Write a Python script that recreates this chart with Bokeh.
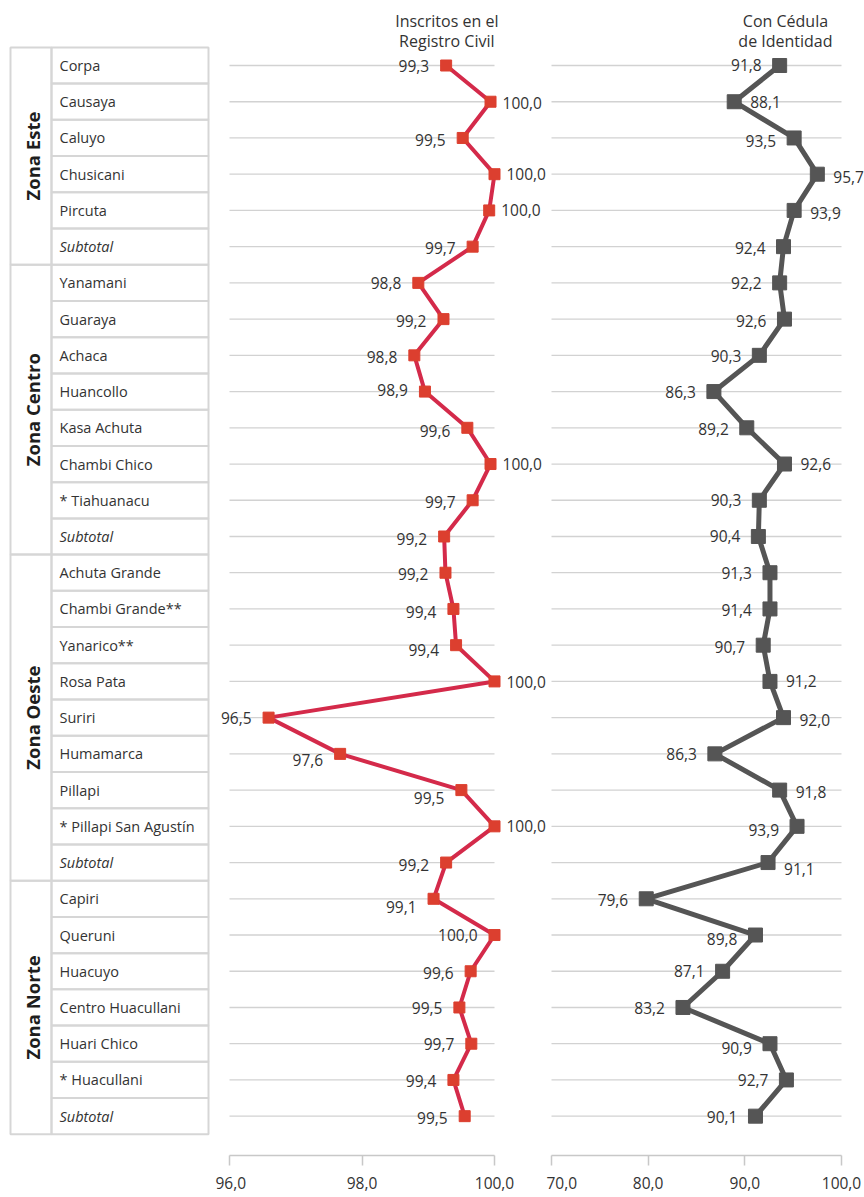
import numpy as np
from bokeh.plotting import figure
from bokeh.models import Range1d, ColumnDataSource, FixedTicker, CustomJSTickFormatter
from bokeh.layouts import row
from bokeh.embed import file_html
from bokeh.resources import INLINE
from bokeh.core.properties import value

# ---------------- data ----------------
zones = ["Zona Este", "Zona Centro", "Zona Oeste", "Zona Norte"]
zona_este = ["Corpa", "Causaya", "Caluyo", "Chusicani", "Pircuta", "Subtotal"]
zona_centro = ["Yanamani", "Guaraya", "Achaca", "Huancollo", "Kasa Achuta",
               "Chambi Chico", "* Tiahuanacu", "Subtotal"]
zona_oeste = ["Achuta Grande", "Chambi Grande**", "Yanarico**", "Rosa Pata", "Suriri",
              "Humamarca", "Pillapi", "* Pillapi San Agustín", "Subtotal"]
zona_norte = ["Capiri", "Queruni", "Huacuyo", "Centro Huacullani", "Huari Chico",
              "* Huacullani", "Subtotal"]
zone_rows = [zona_este, zona_centro, zona_oeste, zona_norte]

# Inscritos en el Registro Civil (%): plotted positions and printed labels
registro = [99.27, 99.94, 99.52, 100.0, 99.92, 99.67,
            98.85, 99.23, 98.79, 98.95, 99.59, 99.94, 99.67, 99.24,
            99.26, 99.38, 99.42, 100.0, 96.59, 97.67, 99.50, 100.0, 99.27,
            99.08, 100.0, 99.64, 99.47, 99.65, 99.38, 99.55]
registro_lbl = ["99,3", "100,0", "99,5", "100,0", "100,0", "99,7",
                "98,8", "99,2", "98,8", "98,9", "99,6", "100,0", "99,7", "99,2",
                "99,2", "99,4", "99,4", "100,0", "96,5", "97,6", "99,5", "100,0", "99,2",
                "99,1", "100,0", "99,6", "99,5", "99,7", "99,4", "99,5"]

# Con Cédula de Identidad (%): plotted positions and printed labels
cedula = [93.6, 88.9, 95.1, 97.5, 95.1, 94.0,
          93.6, 94.1, 91.5, 86.8, 90.2, 94.1, 91.5, 91.4,
          92.6, 92.6, 91.9, 92.6, 94.0, 86.9, 93.6, 95.4, 92.4,
          79.8, 91.1, 87.7, 83.6, 92.6, 94.3, 91.1]
cedula_lbl = ["91,8", "88,1", "93,5", "95,7", "93,9", "92,4",
              "92,2", "92,6", "90,3", "86,3", "89,2", "92,6", "90,3", "90,4",
              "91,3", "91,4", "90,7", "91,2", "92,0", "86,3", "91,8", "93,9", "91,1",
              "79,6", "89,8", "87,1", "83,2", "90,9", "92,7", "90,1"]

reg_ticks = [96, 98, 100]
ced_ticks = [70, 80, 90, 100]

# ---------------- layout / style ----------------
reg_side = list("LRLRRL" "LLLLLRLL" "LLLRLLLRL" "LLLLLLL")
reg_dy = [0, 1, 2, 0, 0, 1, 0, 2, 2, -2, 3, 0, 2, 3, 1, 3, 5, 1, 0, 6, 8, 0, 2, 8, 0, 2, 1, 0, 1, 2]
ced_side = list("LRLRRL" "LLLLLRLL" "LLLRRLRLR" "LLLLLLL")
ced_dy = [-1, 0, 3, 3, 3, 1, 0, 2, 1, 0, 1, 0, 0, 0, 0, 1, 2, 0, 2, 0, 2, 4, 6, 1, 4, 0, 1, 4, 0, 1]

FONT = "Open Sans"
TXT = "#333333"
GRID = "#d2d2d2"
H = 1197
BB = 42
PITCH = 36.23
ROW0 = 65.0
FRAME_H = H - BB
Y_TOP = -ROW0 / PITCH
Y_BOT = (FRAME_H - ROW0) / PITCH

names = [n for z in zone_rows for n in z]
rows = np.arange(len(names))


def base_fig(width, xr):
    p = figure(width=width, height=H, x_range=Range1d(*xr), y_range=Range1d(Y_BOT, Y_TOP),
               output_backend="svg", toolbar_location=None, y_axis_location=None,
               min_border_left=0, min_border_right=0, min_border_top=0, min_border_bottom=BB)
    p.outline_line_color = None
    p.xgrid.visible = False
    p.ygrid.visible = False
    p.background_fill_color = "white"
    p.border_fill_color = "white"
    return p


# ---------------- table ----------------
tw = 215
tab = base_fig(tw, (0, tw))
tab.xaxis.visible = False
zl, zr, nr = 10, 51, 208
tab.quad(left=zr, right=nr, top=rows - 0.5, bottom=rows + 0.5,
         fill_color=None, line_color="#d6d6d6", line_width=2)
start = 0
zmid = []
ztop = []
zbot = []
for z in zone_rows:
    ztop.append(start - 0.5)
    zbot.append(start + len(z) - 0.5)
    zmid.append(start + (len(z) - 1) / 2)
    start += len(z)
tab.quad(left=zl, right=zr, top=ztop, bottom=zbot, fill_color=None,
         line_color="#d6d6d6", line_width=2)
styles = ["italic" if n == "Subtotal" else "normal" for n in names]
tsrc = ColumnDataSource(dict(x=[59] * len(names), y=rows, t=names, s=styles))
tab.text(x="x", y="y", text="t", source=tsrc, text_font=value(FONT), text_font_size="14.5px",
         text_font_style="s", text_color=TXT, text_baseline="middle", text_align="left")
tab.text(x=[(zl + zr) / 2 + 1] * 4, y=zmid, text=zones, angle=np.pi / 2,
         text_font=value(FONT), text_font_size="18.5px", text_font_style="bold",
         text_color="#1e1e1e", text_baseline="middle", text_align="center")


def chart(width, xr, vals, lbls, sides, dys, lo, hi, ticks, lcol, mcol, lw, msize,
          gap_l, gap_r, title, tx):
    p = base_fig(width, xr)
    p.segment(x0=lo, x1=hi, y0=rows, y1=rows, line_color=GRID, line_width=1.3)
    p.line(vals, rows, line_color=lcol, line_width=lw)
    p.scatter(vals, rows, marker="square", size=msize, fill_color=mcol, line_color=mcol)
    src = ColumnDataSource(dict(
        x=vals, y=rows, t=lbls,
        al=["right" if s == "L" else "left" for s in sides],
        xo=[-gap_l if s == "L" else gap_r for s in sides],
        yo=dys))
    p.text(x="x", y="y", text="t", source=src, x_offset="xo", y_offset="yo",
           text_align="al", text_baseline="middle", text_font=value(FONT),
           text_font_size="15.5px", text_color=TXT)
    ty = [(20 - ROW0) / PITCH, (40 - ROW0) / PITCH]
    p.text(x=[tx, tx], y=ty, text=title, text_align="center", text_baseline="middle",
           text_font=value(FONT), text_font_size="16px", text_color=TXT)
    ax = p.xaxis[0]
    ax.bounds = (lo, hi)
    ax.ticker = FixedTicker(ticks=ticks)
    ax.formatter = CustomJSTickFormatter(code="return tick.toFixed(1).replace('.', ',');")
    ax.axis_line_color = "#c8c8c8"
    ax.axis_line_width = 1.5
    ax.major_tick_line_color = "#c8c8c8"
    ax.major_tick_line_width = 1.5
    ax.major_tick_in = 0
    ax.major_tick_out = 10
    ax.minor_tick_line_color = None
    ax.major_label_standoff = 11
    ax.major_label_text_font = FONT
    ax.major_label_text_font_size = "15.5px"
    ax.major_label_text_color = TXT
    return p


rw = 331
rs = 66.25
r0 = 96 - 14 / rs
red = chart(rw, (r0, r0 + rw / rs), registro, registro_lbl, reg_side, reg_dy, 96, 100,
            reg_ticks, "#d42a4a", "#dc3f2f", 4, 11, 17, 12,
            ["Inscritos en el", "Registro Civil"], 99.28)

gw = 318
gs = 9.667
g0 = 70 - 5 / gs
gray = chart(gw, (g0, g0 + gw / gs), cedula, cedula_lbl, ced_side, ced_dy, 70, 100,
             ced_ticks, "#555555", "#555555", 5, 14, 18, 16,
             ["Con Cédula", "de Identidad"], 94.2)

layout = row(tab, red, gray)
open("out.html", "w").write(file_html(layout, INLINE))
